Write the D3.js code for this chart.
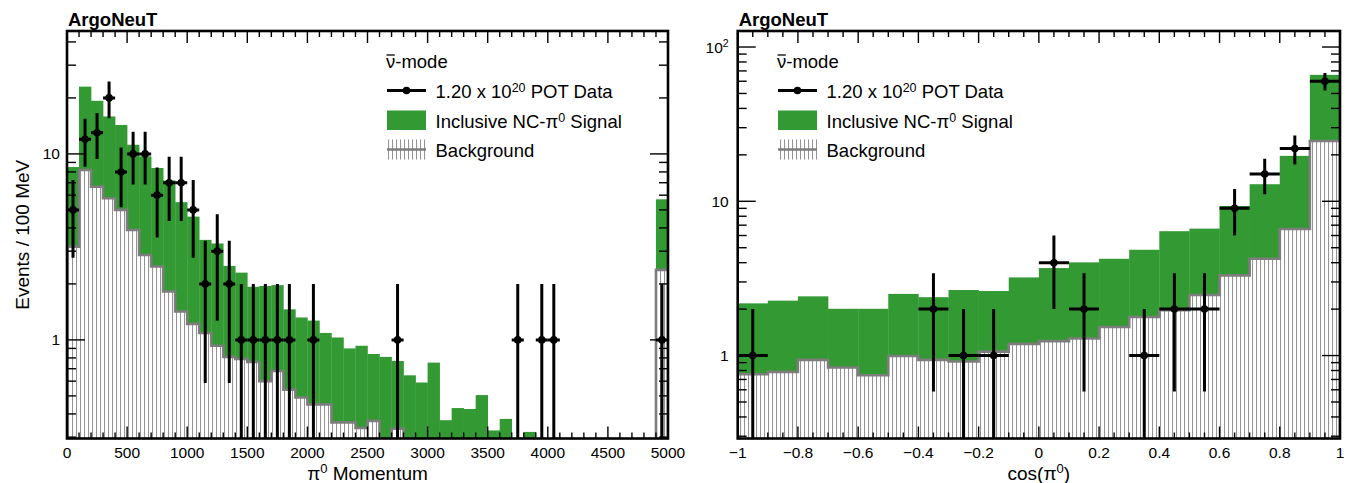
<!DOCTYPE html>
<html>
<head>
<meta charset="utf-8">
<script src="https://cdn.jsdelivr.net/npm/d3@7"></script>
<style>
  body { margin: 0; background: #fff; }
  svg { display: block; }
  text { font-family: "Liberation Sans", Arial, Helvetica, sans-serif; fill: #000; }
</style>
</head>
<body>
<svg id="chart" width="1356" height="483"></svg>
<script>
// ---- pi0 momentum spectrum (MeV), 100 MeV bins from 0 to 5000 ----
const momBinStart = 0;
const momBinWidth = 100;
const momTotal = [8.5, 23, 19.3, 15.9, 14.3, 11.2, 9.7, 8.4, 7.2, 5.5,
                  4.6, 3.45, 3.3, 2.5, 2.3, 1.93, 1.95, 1.97, 1.46, 1.32,
                  1.27, 1.09, 1.03, 0.90, 0.93, 0.84, 0.81, 0.77, 0.645, 0.59,
                  0.755, 0.37, 0.43, 0.425, 0.505, 0.326, 0.376, 0, 0.32, 0,
                  0, 0, 0, 0, 0, 0, 0, 0, 0, 5.7];
const momBackground = [3.17, 8.2, 6.67, 5.78, 5.0, 3.9, 2.86, 2.48, 1.82, 1.42,
                       1.22, 1.09, 0.93, 0.81, 0.79, 0.76, 0.60, 0.68, 0.54, 0.49,
                       0.45, 0.45, 0.36, 0.36, 0.336, 0.367, 0, 0.333, 0, 0,
                       0, 0, 0, 0, 0, 0, 0, 0, 0, 0,
                       0, 0, 0, 0, 0, 0, 0, 0, 0, 2.38];
const momData = [5, 12, 13, 20, 8, 10, 10, 6, 7, 7,
                 5, 2, 3, 2, 1, 1, 1, 1, 1, 0,
                 1, 0, 0, 0, 0, 0, 0, 1, 0, 0,
                 0, 0, 0, 0, 0, 0, 0, 1, 0, 1,
                 1, 0, 0, 0, 0, 0, 0, 0, 0, 1];

// ---- cos(pi0) distribution, 0.1 bins from -1 to 1 ----
const cosBinStart = -1;
const cosBinWidth = 0.1;
const cosTotal = [2.18, 2.27, 2.42, 2.01, 2.01, 2.51, 2.39, 2.66, 2.62, 3.21,
                  3.69, 4.02, 4.24, 4.85, 6.4, 6.65, 9.33, 12.9, 19.7, 66];
const cosBackground = [0.757, 0.784, 0.937, 0.837, 0.746, 0.994, 0.937, 0.915, 1.06, 1.19,
                       1.24, 1.29, 1.53, 1.78, 1.97, 2.47, 3.31, 4.24, 6.62, 24.6];
const cosData = [1, 0, 0, 0, 0, 0, 2, 1, 1, 0,
                 4, 2, 0, 1, 2, 2, 9, 15, 22, 60];

// ---- text ----
const experimentLabel = "ArgoNeuT";
const modeLabel = "-mode";
const legendData = ["1.20 x 10", "20", " POT Data"];
const legendSignal = ["Inclusive NC-\u03c0", "0", " Signal"];
const legendBackground = "Background";
const yTitle = "Events / 100 MeV";

const GREEN = "#339933";
const BKG_LINE = "#7d7d7d";
const FONT = 18.5;

const svg = d3.select("#chart");
const defs = svg.append("defs");
const hatch = defs.append("pattern").attr("id", "hatch")
  .attr("patternUnits", "userSpaceOnUse").attr("width", 4).attr("height", 8);
hatch.append("rect").attr("width", 4).attr("height", 8).attr("fill", "#fff");
hatch.append("line").attr("x1", 0.5).attr("x2", 0.5).attr("y1", 0).attr("y2", 8)
  .attr("stroke", "#939393").attr("stroke-width", 1.1);

function supText(sel, parts, mainSize, supSize, rise) {
  sel.append("tspan").text(parts[0]);
  sel.append("tspan").attr("font-size", supSize).attr("dy", -rise).text(parts[1]);
  if (parts.length > 2) sel.append("tspan").attr("font-size", mainSize).attr("dy", rise).text(parts[2]);
}

function drawPanel(cfg, id) {
  const g = svg.append("g");
  const x = d3.scaleLinear().domain(cfg.xDomain).range([cfg.x0, cfg.x1]);
  const y = d3.scaleLog().domain(cfg.yDomain).range([cfg.y1, cfg.y0]);
  const yc = v => (v <= 0 ? cfg.y1 + 5 : y(v));
  const n = cfg.total.length;
  const lo = i => cfg.start + i * cfg.width;
  const hi = i => cfg.start + (i + 1) * cfg.width;

  defs.append("clipPath").attr("id", "clip" + id).append("rect")
    .attr("x", cfg.x0).attr("y", cfg.y0)
    .attr("width", cfg.x1 - cfg.x0).attr("height", cfg.y1 - cfg.y0);
  const plot = g.append("g").attr("clip-path", `url(#clip${id})`);

  // signal + background stack (total)
  plot.selectAll("rect.total").data(d3.range(n).filter(i => cfg.total[i] > 0)).join("rect")
    .attr("x", i => x(lo(i))).attr("width", i => x(hi(i)) - x(lo(i)) + 0.3)
    .attr("y", i => y(cfg.total[i])).attr("height", i => cfg.y1 + 5 - y(cfg.total[i]))
    .attr("fill", GREEN);

  // background histogram, hatched
  const bkgClamp = v => Math.min(cfg.y1 + 1.2, yc(v));
  let p = `M${x(lo(0))},${cfg.y1 + 5}`;
  for (let i = 0; i < n; i++) {
    p += `L${x(lo(i))},${bkgClamp(cfg.bkg[i])}L${x(hi(i))},${bkgClamp(cfg.bkg[i])}`;
  }
  p += `L${x(hi(n - 1))},${cfg.y1 + 5}Z`;
  plot.append("path").attr("d", p).attr("fill", "url(#hatch)");
  plot.append("path").attr("d", p).attr("fill", "none")
    .attr("stroke", BKG_LINE).attr("stroke-width", 2.6);

  // data with statistical errors
  const pts = d3.range(n).filter(i => cfg.data[i] > 0);
  const dg = plot.append("g").attr("stroke", "#000").attr("stroke-width", 3);
  pts.forEach(i => {
    const v = cfg.data[i], e = Math.sqrt(v);
    const cx = x((lo(i) + hi(i)) / 2), cy = y(v);
    dg.append("line").attr("x1", cx).attr("x2", cx)
      .attr("y1", yc(v + e)).attr("y2", v - e > 0 ? yc(v - e) : cfg.y1 + 5);
    dg.append("line").attr("x1", x(lo(i))).attr("x2", x(hi(i))).attr("y1", cy).attr("y2", cy);
    plot.append("circle").attr("cx", cx).attr("cy", cy).attr("r", 3.8).attr("fill", "#000");
  });

  // frame and ticks
  const ax = g.append("g").attr("stroke", "#000").attr("stroke-width", 1.4);
  cfg.xTicks.forEach(t => {
    const L = t.major ? 12 : 6;
    const px = x(t.v);
    ax.append("line").attr("x1", px).attr("x2", px).attr("y1", cfg.y1).attr("y2", cfg.y1 - L);
    ax.append("line").attr("x1", px).attr("x2", px).attr("y1", cfg.y0).attr("y2", cfg.y0 + L);
  });
  const [ymin, ymax] = cfg.yDomain;
  for (let d = Math.floor(Math.log10(ymin)); d <= Math.ceil(Math.log10(ymax)); d++) {
    for (let m = 1; m <= 9; m++) {
      const v = m * Math.pow(10, d);
      if (v < ymin || v > ymax) continue;
      const L = m === 1 ? 18 : 9;
      const py = y(v);
      ax.append("line").attr("x1", cfg.x0).attr("x2", cfg.x0 + L).attr("y1", py).attr("y2", py);
      ax.append("line").attr("x1", cfg.x1).attr("x2", cfg.x1 - L).attr("y1", py).attr("y2", py);
    }
  }
  g.append("rect").attr("x", cfg.x0).attr("y", cfg.y0)
    .attr("width", cfg.x1 - cfg.x0).attr("height", cfg.y1 - cfg.y0)
    .attr("fill", "none").attr("stroke", "#000").attr("stroke-width", 2.6);

  // tick labels
  cfg.xTicks.filter(t => t.major).forEach(t => {
    g.append("text").attr("x", x(t.v)).attr("y", 458).attr("text-anchor", "middle")
      .attr("font-size", 15.5).text(cfg.xFormat(t.v));
  });
  cfg.yLabels.forEach(l => {
    const t = g.append("text").attr("x", cfg.x0 - cfg.yLabelGap).attr("y", y(l.v) + 5.5)
      .attr("text-anchor", "end").attr("font-size", 15.5);
    if (l.sup) supText(t, [l.text, l.sup], 15.5, 10.5, 6);
    else t.text(l.text);
  });

  // axis title
  const xt = g.append("text").attr("x", (cfg.x0 + cfg.x1) / 2).attr("y", 480)
    .attr("text-anchor", "middle").attr("font-size", 19);
  supText(xt, cfg.xTitle, 19, 13, 7);

  // experiment label
  g.append("text").attr("x", cfg.x0 + 1).attr("y", 26).attr("font-weight", "bold")
    .attr("font-size", 18.5).text(experimentLabel);

  // legend
  const lx = cfg.legendX, tx = lx + 49.5;
  const mode = g.append("text").attr("x", lx).attr("y", 68).attr("font-size", FONT);
  mode.append("tspan").text("\u03bd");
  mode.append("tspan").text(modeLabel);
  const ext = mode.node().getExtentOfChar(0);
  g.append("line").attr("x1", ext.x + 0.5).attr("x2", ext.x + ext.width - 0.5)
    .attr("y1", 68 - 13).attr("y2", 68 - 13).attr("stroke", "#000").attr("stroke-width", 1.3);

  g.append("line").attr("x1", lx + 1).attr("x2", lx + 40).attr("y1", 90.5).attr("y2", 90.5)
    .attr("stroke", "#000").attr("stroke-width", 3);
  g.append("circle").attr("cx", lx + 20.5).attr("cy", 90.5).attr("r", 3.8).attr("fill", "#000");
  supText(g.append("text").attr("x", tx).attr("y", 98).attr("font-size", FONT), legendData, FONT, 12.5, 6);

  g.append("rect").attr("x", lx + 1).attr("y", 110.5).attr("width", 39).attr("height", 19.5)
    .attr("fill", GREEN);
  supText(g.append("text").attr("x", tx).attr("y", 127.5).attr("font-size", FONT), legendSignal, FONT, 12.5, 6);

  g.append("rect").attr("x", lx + 1).attr("y", 139.5).attr("width", 39).attr("height", 20)
    .attr("fill", "url(#hatch)");
  g.append("line").attr("x1", lx + 1).attr("x2", lx + 40).attr("y1", 149.5).attr("y2", 149.5)
    .attr("stroke", BKG_LINE).attr("stroke-width", 2.6);
  g.append("text").attr("x", tx).attr("y", 156.5).attr("font-size", FONT).text(legendBackground);

  if (cfg.showYTitle) {
    g.append("text").attr("transform", `translate(29,${(cfg.y0 + cfg.y1) / 2}) rotate(-90)`)
      .attr("text-anchor", "middle").attr("font-size", 19).text(yTitle);
  }
}

const momTicks = d3.range(0, 51).map(i => ({ v: i * 100, major: i % 5 === 0 }));
const cosTicks = d3.range(0, 41).map(i => ({ v: -1 + i * 0.05, major: i % 4 === 0 }));

drawPanel({
  x0: 67, x1: 668, y0: 31, y1: 438.5,
  xDomain: [0, 5000], yDomain: [0.295, 45.8],
  start: momBinStart, width: momBinWidth,
  total: momTotal, bkg: momBackground, data: momData,
  xTicks: momTicks, xFormat: v => String(Math.round(v)),
  yLabels: [{ v: 1, text: "1" }, { v: 10, text: "10" }], yLabelGap: 7,
  xTitle: ["\u03c0", "0", " Momentum"],
  legendX: 386, showYTitle: true
}, "L");

drawPanel({
  x0: 737.7, x1: 1340, y0: 31, y1: 438.5,
  xDomain: [-1, 1], yDomain: [0.29, 127],
  start: cosBinStart, width: cosBinWidth,
  total: cosTotal, bkg: cosBackground, data: cosData,
  xTicks: cosTicks,
  xFormat: v => {
    const r = Math.round(v * 10) / 10;
    if (r === 0) return "0";
    const s = Math.abs(r) === 1 ? "1" : Math.abs(r).toFixed(1);
    return (r < 0 ? "\u2212" : "") + s;
  },
  yLabels: [{ v: 1, text: "1" }, { v: 10, text: "10" }, { v: 100, text: "10", sup: "2" }], yLabelGap: 9,
  xTitle: ["cos(\u03c0", "0", ")"],
  legendX: 777, showYTitle: false
}, "R");
</script>
</body>
</html>
